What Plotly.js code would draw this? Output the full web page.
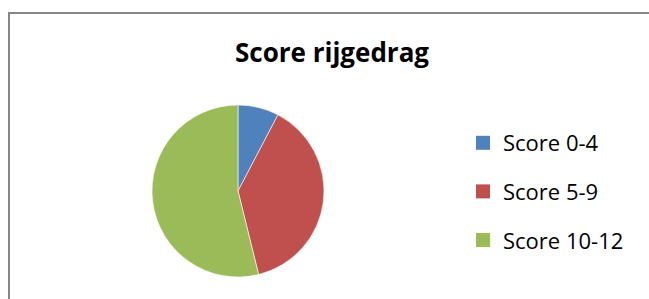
<!DOCTYPE html>
<html>
<head>
<meta charset="utf-8">
<script src="https://cdn.plot.ly/plotly-3.0.1.min.js"></script>
<style>html,body{margin:0;padding:0;background:#fff;}#chart{width:649px;height:299px;}</style>
</head>
<body>
<div id="chart"></div>
<script>
const categories = ["Score 0-4", "Score 5-9", "Score 10-12"];
const values = [1, 5, 7];
const colors = ["#4F81BD", "#C0504D", "#9BBB59"];
const chartTitle = "Score rijgedrag";

const W = 649, H = 299;
const cx = 238, cy = 191, r = 86;

const traces = [{
  type: "pie",
  labels: categories,
  values: values,
  sort: false,
  direction: "clockwise",
  rotation: 0,
  textinfo: "none",
  hoverinfo: "label+value+percent",
  showlegend: false,
  marker: {colors: colors, line: {color: "#ffffff", width: 0.6}},
  domain: {x: [(cx - r) / W, (cx + r) / W], y: [(H - cy - r) / H, (H - cy + r) / H]}
}];

categories.forEach((c, i) => {
  traces.push({
    type: "scatter", mode: "markers", x: [null], y: [null],
    name: c, legendgroup: "g" + i, showlegend: true,
    marker: {symbol: "square", size: 14, color: colors[i]},
    hoverinfo: "skip"
  });
});

const layout = {
  width: W, height: H,
  margin: {l: 0, r: 0, t: 0, b: 0},
  paper_bgcolor: "#ffffff",
  plot_bgcolor: "rgba(0,0,0,0)",
  font: {family: "Open Sans, sans-serif", color: "#000000"},
  title: {
    text: "<b>" + chartTitle + "</b>",
    font: {family: "Open Sans, sans-serif", size: 26, color: "#000000"},
    x: 332 / W, xanchor: "center",
    y: 1 - 53 / H, yanchor: "middle"
  },
  xaxis: {visible: false, range: [0, 1]},
  yaxis: {visible: false, range: [0, 1]},
  showlegend: true,
  legend: {
    x: 463 / W, xanchor: "left",
    y: 1 - 122 / H, yanchor: "top",
    tracegroupgap: 17,
    font: {family: "Open Sans, sans-serif", size: 22, color: "#000000"},
    bgcolor: "rgba(0,0,0,0)",
    borderwidth: 0
  },
  shapes: [{
    type: "rect", xref: "paper", yref: "paper",
    x0: 9 / W, x1: 1.02, y0: -0.02, y1: 1 - 13 / H,
    line: {color: "#868686", width: 2}, fillcolor: "rgba(0,0,0,0)"
  }]
};

Plotly.newPlot("chart", traces, layout, {displayModeBar: false, staticPlot: true});
</script>
</body>
</html>
